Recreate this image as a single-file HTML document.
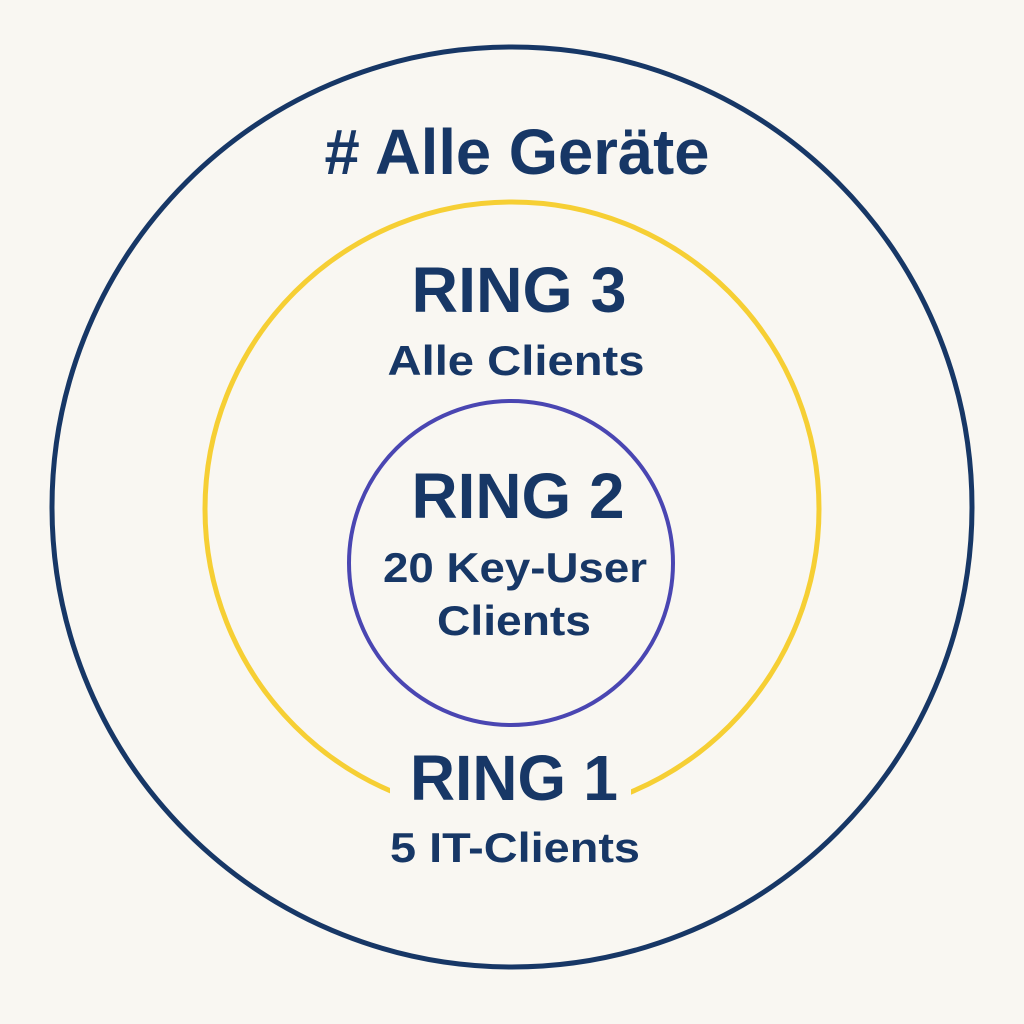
<!DOCTYPE html>
<html><head><meta charset="utf-8"><style>
html,body{margin:0;padding:0;background:#f9f7f2;}
svg{display:block;}
text{font-family:"Liberation Sans",sans-serif;font-weight:bold;fill:#173766;text-anchor:middle;}
</style></head><body>
<svg width="1024" height="1024" viewBox="0 0 1024 1024">
<rect width="1024" height="1024" fill="#f9f7f2"/>
<circle cx="512" cy="507" r="460" fill="none" stroke="#173766" stroke-width="5"/>
<circle cx="512" cy="509" r="307" fill="none" stroke="#f6cf34" stroke-width="5"/>
<rect x="390" y="740" width="241" height="100" fill="#f9f7f2"/>
<circle cx="511" cy="563" r="162" fill="none" stroke="#4a46b2" stroke-width="4"/>
<text x="517" y="174" font-size="64" textLength="385" lengthAdjust="spacingAndGlyphs">#  Alle Geräte</text>
<text x="519" y="312" font-size="64" textLength="215" lengthAdjust="spacingAndGlyphs">RING 3</text>
<text x="516" y="375" font-size="42" textLength="257" lengthAdjust="spacingAndGlyphs">Alle Clients</text>
<text x="518" y="518" font-size="64" textLength="213" lengthAdjust="spacingAndGlyphs">RING 2</text>
<text x="515" y="582" font-size="42" textLength="264" lengthAdjust="spacingAndGlyphs">20 Key-User</text>
<text x="514" y="635" font-size="42" textLength="154" lengthAdjust="spacingAndGlyphs">Clients</text>
<text x="514" y="800" font-size="64" textLength="208" lengthAdjust="spacingAndGlyphs">RING 1</text>
<text x="515" y="862" font-size="42" textLength="250" lengthAdjust="spacingAndGlyphs">5 IT-Clients</text>
</svg>
</body></html>
